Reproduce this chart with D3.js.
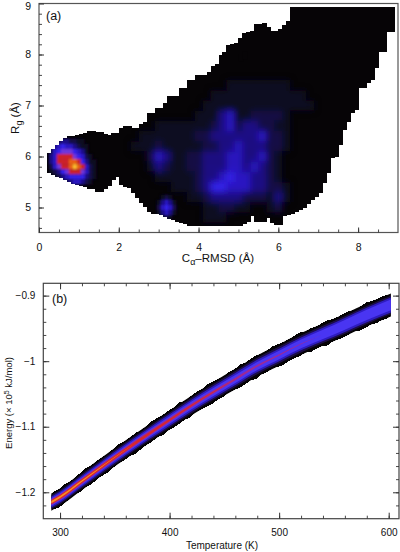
<!DOCTYPE html>
<html>
<head>
<meta charset="utf-8">
<script src="https://cdnjs.cloudflare.com/ajax/libs/d3/7.8.5/d3.min.js"></script>
<style>
html, body { margin: 0; padding: 0; background: #fff; }
svg { display: block; }
text { font-family: "Liberation Sans", sans-serif; fill: #111; }
</style>
</head>
<body>
<script>
// panel (a): outline of the populated region, one value per 0.1 A column starting at 0.2
var rmsdStart = 0.2
var rgTop = [6.07,6.15,6.23,6.30,6.36,6.40,6.40,6.42,6.44,6.46,6.50,6.50,6.48,6.48,6.44,6.42,6.46,6.46,6.56,6.60,
  6.60,6.56,6.56,6.64,6.68,6.85,6.85,6.95,6.95,7.05,7.19,7.19,7.19,7.34,7.34,7.50,7.50,7.60,7.60,7.60,
  7.66,7.77,7.81,7.99,8.05,8.19,8.21,8.23,8.32,8.42,8.44,8.46,8.60,8.60,8.62,8.54,8.46,8.46,8.50,8.58,
  8.66,8.93,8.93,8.93,8.93,8.93,8.93,8.93,8.93,8.93,8.93,8.93,8.93,8.93,8.93,8.93,8.93,8.93,8.93,8.93,
  8.93,8.93,8.93,8.93,8.93,8.93,8.93]
var rgLow = [5.68,5.64,5.60,5.58,5.54,5.50,5.46,5.44,5.42,5.40,5.36,5.36,5.30,5.30,5.36,5.42,5.54,5.60,5.44,5.40,
  5.38,5.28,5.18,5.09,5.01,4.91,4.87,4.87,4.85,4.81,4.77,4.75,4.71,4.70,4.68,4.64,4.64,4.64,4.64,4.64,
  4.64,4.64,4.64,4.64,4.64,4.64,4.64,4.64,4.64,4.67,4.71,4.83,4.71,4.71,4.71,4.79,4.69,4.66,4.66,4.83,
  4.85,4.87,4.91,4.95,4.99,5.07,5.15,5.21,5.28,5.48,5.68,5.97,5.99,6.22,6.52,6.68,6.85,6.91,7.34,7.34,
  7.44,7.50,7.74,8.05,8.05,8.44,8.44]
// stray populated cells above the outline
var strayRmsd = [5.0, 5.1]
var strayRg = [8.0, 8.05]

// broad density, digits are colour levels, columns 1.4, 1.6 ... rows listed below
var broadRg = [7.4,7.2,7.0,6.8,6.6,6.4,6.2,6.0,5.8,5.6,5.4,5.2,5.0,4.8]
var broadLevels = [
  "00000000000000000111111110000000000000",
  "00000000000000011111111111100000000000",
  "00000000000000111111111111110000000000",
  "00000000000001113411222210000000000000",
  "00000000111111123423322110000000000000",
  "00000011111112233333342210000000000000",
  "00000111211111223343332210000000000000",
  "00000002431122333443342100000000000000",
  "00000001321122333443432100000000000000",
  "00000000111112334544332100000000000000",
  "00000000001112355444332210000000000000",
  "00000000000011233332221310000000000000",
  "00000000000000112211001200000000000000",
  "00000000000000111000000000000000000000"
]
var broadRmsd = d3.range(1.4, 8.9, 0.2)

// the native basin and the small spot, read on a 0.1 A grid
var peakRmsd = [0.3,0.4,0.5,0.6,0.7,0.8,0.9,1.0,1.1,1.2,1.3,1.4]
var peakRg = [6.3,6.2,6.1,6.0,5.9,5.8,5.7,5.6,5.5]
var peakLevels = [
  "122332211000",
  "234544321100",
  "245666543100",
  "347777654210",
  "347778875311",
  "246778987421",
  "123567776421",
  "012345555321",
  "001123443210"
]
var spotRmsd = [3.0,3.1,3.2,3.3,3.4]
var spotRg = [5.2,5.1,5.0,4.9,4.8]
var spotLevels = ["01210", "13431", "24542", "13431", "01210"]

var levelColors = ["#000000","#0f0720","#160b48","#1e1088","#2a18c8","#3624f0","#7038e0","#d0202c","#f06018","#ffc030"]

// panel (b): centre of the band and half widths of each colour layer, in energy units
var temps = [292,300,320,340,360,380,400,420,440,460,480,500,520,540,560,580,602]
var energyMid = [-1.2150,-1.2073,-1.1829,-1.1585,-1.1348,-1.1119,-1.0898,-1.0676,-1.0470,-1.0272,-1.0073,-0.9905,-0.9737,-0.9592,-0.9447,-0.9295,-0.9142]
var halfBlack = [.0130,.0132,.0135,.0137,.0140,.0143,.0146,.0150,.0153,.0156,.0160,.0163,.0166,.0168,.0171,.0174,.0176]
var halfDark = [.0105,.0105,.0107,.0108,.0110,.0112,.0115,.0118,.0120,.0122,.0125,.0128,.0130,.0132,.0134,.0136,.0140]
var halfBlue = [.0082,.0082,.0082,.0083,.0084,.0085,.0087,.0088,.0090,.0092,.0094,.0096,.0098,.0102,.0106,.0110,.0114]
var halfViolet = [.0058,.0058,.0058,.0058,.0058,.0058,.0058,.0059,.0060,.0061,.0062,.0064,.0066,.0070,.0074,.0078,.0082]
var halfMagenta = [.0044,.0044,.0043,.0042,.0040,.0038,.0034,.0030,.0025,.0021,.0017,.0012,.0006,0,0,0,0]
var halfRed = [.0032,.0032,.0030,.0028,.0025,.0021,.0016,.0012,.0007,.0002,0,0,0,0,0,0,0]
var halfOrange = [.0016,.0015,.0011,.0006,.0002,0,0,0,0,0,0,0,0,0,0,0,0]

// rough rim of the band, every 5 K from 295, in 0.001 energy units
var rimTemps = d3.range(294, 602, 5)
var rimTop = [1,0,1,-1,0,1,2,0,1,0,-1,1,2,0,0,1,-1,0,2,1,0,1,0,2,-1,0,1,0,2,1,0,-1,1,0,2,0,1,1,-1,0,2,1,0,0,1,2,-1,1,0,1,2,0,0,1,1,-1,0,2,1,0,1,0]
var rimLow = [0,2,1,0,-1,1,0,2,0,1,2,0,-1,1,0,3,1,0,1,-1,2,0,1,1,0,2,-1,0,1,2,0,1,-1,0,2,1,0,3,0,1,-1,1,2,0,0,1,-1,2,1,0,3,0,1,1,0,-1,2,1,0,1,0,1]

var xTicksA = [0,2,4,6,8]
var yTicksA = [5,6,7,8,9]
var xTicksB = [300,400,500,600]
var yTicksB = [-1.2,-1.1,-1,-0.9]

var svg = d3.select("body").append("svg").attr("width", 400).attr("height", 552)

var defs = svg.append("defs")
function blur(id, s){
  defs.append("filter").attr("id", id)
    .attr("x", "-10%").attr("y", "-10%").attr("width", "120%").attr("height", "120%")
    .append("feGaussianBlur").attr("stdDeviation", s)
}
blur("blurBroad", 3.2)
blur("blurFine", 1.3)
blur("blurBand", 0.7)

// ---------- panel a ----------
var xA = d3.scaleLinear().domain([0, 9]).range([39, 398])
var yA = d3.scaleLinear().domain([9, 4.51]).range([3.5, 232.5])
var cellW = xA(0.1) - xA(0)
var cellH = yA(0) - yA(0.1)

var columns = rgTop.map(function(t, i){
  return {rmsd: rmsdStart + i * 0.1, top: t, low: rgLow[i]}
})

function addColumns(sel){
  sel.selectAll("rect.col")
    .data(columns)
    .enter().append("rect")
    .attr("class", "col")
    .attr("shape-rendering", "crispEdges")
    .attr("x", function(d){ return xA(d.rmsd) })
    .attr("width", cellW + 0.8)
    .attr("y", function(d){ return yA(d.top) })
    .attr("height", function(d){ return yA(d.low) - yA(d.top) })
}

var clip = defs.append("clipPath").attr("id", "outlineClip")
addColumns(clip)

var panelA = svg.append("g")
addColumns(panelA.append("g").attr("fill", "#060406"))

panelA.append("g").selectAll("rect")
  .data(strayRmsd)
  .enter().append("rect")
  .attr("x", function(d){ return xA(d) })
  .attr("y", function(d, i){ return yA(strayRg[i]) })
  .attr("width", cellW + 1)
  .attr("height", cellH + 2)
  .attr("fill", "#060406")

function addGrid(parent, xs, ys, rows, filterId, w, h){
  var cells = []
  rows.forEach(function(row, r){
    row.split("").forEach(function(c, k){
      if (+c > 0) cells.push({x: xs[k], y: ys[r], level: +c})
    })
  })
  parent.append("g").attr("filter", "url(#" + filterId + ")")
    .selectAll("rect")
    .data(cells)
    .enter().append("rect")
    .attr("x", function(d){ return xA(d.x - w / 2) })
    .attr("y", function(d){ return yA(d.y + h / 2) })
    .attr("width", xA(w) - xA(0))
    .attr("height", yA(0) - yA(h))
    .attr("fill", function(d){ return levelColors[d.level] })
}

var density = panelA.append("g").attr("clip-path", "url(#outlineClip)")
addGrid(density, broadRmsd, broadRg, broadLevels, "blurBroad", 0.2, 0.2)
addGrid(density, spotRmsd, spotRg, spotLevels, "blurFine", 0.1, 0.1)
addGrid(density, peakRmsd, peakRg, peakLevels, "blurFine", 0.1, 0.1)

function frame(x0, x1, y0, y1, color){
  svg.append("rect")
    .attr("x", x0).attr("y", y0)
    .attr("width", x1 - x0).attr("height", y1 - y0)
    .attr("fill", "none").attr("stroke", color).attr("stroke-width", 1.2)
}

function tickAxis(axis, tx, ty, major, fontSize){
  var g = svg.append("g").attr("transform", "translate(" + tx + "," + ty + ")").call(axis)
  g.select(".domain").remove()
  g.selectAll("line").attr("stroke", "#333").attr("stroke-width", major ? 1 : 0.9)
  if (fontSize) g.selectAll("text").attr("font-size", fontSize).attr("fill", "#111")
  return g
}

function fmtTick(d){ return String(d).replace("-", "\u2212") }

frame(39, 398, 3.5, 232.5, "#555")

tickAxis(d3.axisBottom(xA).tickValues(d3.range(0, 9, 0.5)).tickSize(-3).tickFormat(""), 0, 232.5, false)
tickAxis(d3.axisLeft(yA).tickValues(d3.range(4.6, 9, 0.2)).tickSize(-3).tickFormat(""), 39, 0, false)
tickAxis(d3.axisBottom(xA).tickValues(xTicksA).tickSize(-5).tickPadding(11).tickFormat(d3.format("d")), 0, 232.5, true, 10.5)
var yAxisA = tickAxis(d3.axisLeft(yA).tickValues(yTicksA).tickSize(-5).tickPadding(8).tickFormat(d3.format("d")), 39, 0, true, 10.5)
// the top label would run off the page
yAxisA.selectAll("text").filter(function(d){ return d === 9 }).attr("dy", "0.6em")

svg.append("text").attr("x", 46).attr("y", 20).attr("font-size", 12.5).attr("font-family", "DejaVu Sans").text("(a)")

var xTitleA = svg.append("text").attr("x", 218).attr("y", 262).attr("text-anchor", "middle").attr("font-size", 11.5)
xTitleA.append("tspan").text("C")
xTitleA.append("tspan").attr("dy", 3).attr("font-size", 9).text("\u03b1")
xTitleA.append("tspan").attr("dy", -3).text("\u2013RMSD (\u00c5)")

var yTitleA = svg.append("text").attr("transform", "translate(19,118) rotate(-90)").attr("text-anchor", "middle").attr("font-size", 11.5)
yTitleA.append("tspan").text("R")
yTitleA.append("tspan").attr("dy", 3).attr("font-size", 9).text("g")
yTitleA.append("tspan").attr("dy", -3).text(" (\u00c5)")

// ---------- panel b ----------
var xB = d3.scaleLinear().domain([284.7, 609.4]).range([43.3, 399])
var yB = d3.scaleLinear().domain([-0.8812, -1.2403]).range([283.3, 518.7])

var band = svg.append("g")

function addLayer(half, color, filtered){
  var area = d3.area()
    .curve(d3.curveMonotoneX)
    .x(function(d, i){ return xB(temps[i]) })
    .y0(function(d, i){ return yB(energyMid[i] - half[i]) })
    .y1(function(d, i){ return yB(energyMid[i] + half[i]) })
  var last = half.findIndex(function(h){ return h === 0 })
  var data = last < 0 ? half : half.slice(0, last + 1)
  var p = band.append("path").datum(data).attr("d", area).attr("fill", color)
  if (filtered) p.attr("filter", "url(#blurBand)")
}

// rim is drawn first so the smooth layers cover its inside
var midAt = d3.scaleLinear().domain(temps).range(energyMid)
var halfAt = d3.scaleLinear().domain(temps).range(halfBlack)
var rim = d3.area()
  .x(function(d){ return xB(d) })
  .y0(function(d, i){ return yB(midAt(d) - halfAt(d) - rimLow[i] * 0.001) })
  .y1(function(d, i){ return yB(midAt(d) + halfAt(d) + rimTop[i] * 0.001) })
band.append("path").datum(rimTemps).attr("d", rim).attr("fill", "#050305").attr("shape-rendering", "crispEdges")

addLayer(halfBlack, "#050305", false)
addLayer(halfDark, "#1c1048", true)
addLayer(halfBlue, "#2e1cc0", true)
addLayer(halfViolet, "#4a34f2", true)
addLayer(halfMagenta, "#9a2a98", true)
addLayer(halfRed, "#d8282c", true)
addLayer(halfOrange, "#f89020", true)

frame(43.3, 399, 283.3, 518.7, "#444")

tickAxis(d3.axisBottom(xB).tickValues(d3.range(300, 601, 20)).tickSize(-3).tickFormat(""), 0, 518.7, false)
tickAxis(d3.axisTop(xB).tickValues(d3.range(300, 601, 20)).tickSize(-3).tickFormat(""), 0, 283.3, false)
tickAxis(d3.axisLeft(yB).tickValues(d3.range(-1.22, -0.88, 0.02)).tickSize(-3).tickFormat(""), 43.3, 0, false)
tickAxis(d3.axisRight(yB).tickValues(d3.range(-1.22, -0.88, 0.02)).tickSize(-3).tickFormat(""), 399, 0, false)
tickAxis(d3.axisBottom(xB).tickValues(xTicksB).tickSize(-6).tickPadding(10).tickFormat(d3.format("d")), 0, 518.7, true, 10)
tickAxis(d3.axisTop(xB).tickValues(xTicksB).tickSize(-6).tickFormat(""), 0, 283.3, true)
tickAxis(d3.axisLeft(yB).tickValues(yTicksB).tickSize(-6).tickPadding(8).tickFormat(fmtTick), 43.3, 0, true, 10)
tickAxis(d3.axisRight(yB).tickValues(yTicksB).tickSize(-6).tickFormat(""), 399, 0, true)

svg.append("text").attr("x", 52).attr("y", 303).attr("font-size", 12.5).attr("font-family", "DejaVu Sans").text("(b)")

svg.append("text").attr("x", 222).attr("y", 549).attr("text-anchor", "middle").attr("font-size", 10).text("Temperature (K)")

var yTitleB = svg.append("text").attr("transform", "translate(12,403) rotate(-90)").attr("text-anchor", "middle").attr("font-size", 9.5)
yTitleB.append("tspan").text("Energy (\u00d7 10")
yTitleB.append("tspan").attr("dy", -3).attr("font-size", 7).text("5")
yTitleB.append("tspan").attr("dy", 3).text(" kJ/mol)")
</script>
</body>
</html>
